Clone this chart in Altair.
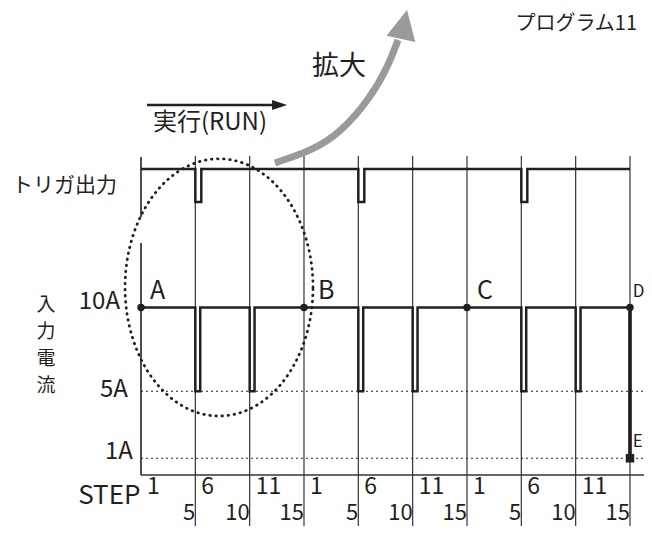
import altair as alt
import pandas as pd
import numpy as np

# ---------------- data ----------------
block_edges = [5, 10, 15, 20, 25, 30, 35, 40, 45]   # step boundaries 5|6, 10|11, 15|1
run_end = 45
level_high = 10        # A
level_low = 5          # A
level_final = 1        # A
current_dips = [5, 10, 20, 25, 35, 40]
dip_len = 0.45
trigger_pulses = [5, 20, 35]
pulse_len = 0.55
trig_hi, trig_lo = 18.27, 16.30          # trigger trace levels (upper band)
point_steps = [0, 15, 30, 45]
point_names = ["A", "B", "C", "D", "E"]
level_labels = ["10A", "5A", "1A"]
step_row1 = ["1", "6", "11"]
step_row2 = ["5", "10", "15"]
cycle_len = 15
n_cycles = 3

# ---------------- scales ----------------
W, H = 636, 518
XMIN, XMAX = -12.239, 46.289
YMIN, YMAX = -3.044, 27.881
xs = alt.Scale(domain=[XMIN, XMAX], nice=False, zero=False)
ys = alt.Scale(domain=[YMIN, YMAX], nice=False, zero=False)
INK = "#231f20"
FONT = "Noto Sans CJK JP"


def X(f="t"):
    return alt.X(f"{f}:Q", scale=xs, axis=None)


def Y(f="a"):
    return alt.Y(f"{f}:Q", scale=ys, axis=None)


# ---------------- paths ----------------
cur = [(0, level_high)]
for d in current_dips:
    cur += [(d, level_high), (d, level_low), (d + dip_len, level_low), (d + dip_len, level_high)]
cur += [(run_end, level_high), (run_end, level_final)]
cur_df = pd.DataFrame(cur, columns=["t", "a"]).reset_index().rename(columns={"index": "i"})

trg = [(0, trig_hi)]
for p in trigger_pulses:
    trg += [(p, trig_hi), (p, trig_lo), (p + pulse_len, trig_lo), (p + pulse_len, trig_hi)]
trg += [(run_end, trig_hi)]
trg_df = pd.DataFrame(trg, columns=["t", "a"]).reset_index().rename(columns={"index": "i"})

# grid verticals
grid = alt.Chart(pd.DataFrame({"t": block_edges, "a": 19.04, "a2": YMIN})).mark_rule(
    color="#333333", strokeWidth=1.2).encode(x=X(), y=Y(), y2="a2")

left = alt.Chart(pd.DataFrame({"t": [0, 0], "a": [18.99, 13.85], "a2": [15.40, 0]})).mark_rule(
    color="#3a3a3a", strokeWidth=1.8).encode(x=X(), y=Y(), y2="a2")

axis_line = alt.Chart(pd.DataFrame({"t": [0], "t2": [XMAX], "a": [0]})).mark_rule(
    color="#333333", strokeWidth=1.5).encode(x=X(), x2="t2", y=Y())

dotted = alt.Chart(pd.DataFrame({"t": [0, 0], "t2": [XMAX, XMAX], "a": [level_low, level_final]})).mark_rule(
    color=INK, strokeWidth=1.2, strokeDash=[2, 3]).encode(x=X(), x2="t2", y=Y())

trig_line = alt.Chart(trg_df).mark_line(color=INK, strokeWidth=2.5).encode(
    x=X(), y=Y(), order="i:Q")
cur_line = alt.Chart(cur_df).mark_line(color=INK, strokeWidth=2.5).encode(
    x=X(), y=Y(), order="i:Q")

drop = alt.Chart(pd.DataFrame({"t": [run_end], "a": [level_high], "a2": [level_final]})).mark_rule(
    color=INK, strokeWidth=3.6).encode(x=X(), y=Y(), y2="a2")

pts = alt.Chart(pd.DataFrame({"t": point_steps, "a": level_high})).mark_point(
    shape="circle", filled=True, size=55, color=INK, opacity=1).encode(x=X(), y=Y())
sq = alt.Chart(pd.DataFrame({"t": [run_end], "a": [level_final]})).mark_point(
    shape="square", filled=True, size=72, color=INK, opacity=1).encode(x=X(), y=Y())

# dotted ellipse around the magnified region
ecx, ecy, erx, ery = 7.18, 11.20, 8.65, 7.68
th = np.linspace(0, 2 * np.pi, 241)
ell_df = pd.DataFrame({"i": np.arange(len(th)), "t": ecx + erx * np.cos(th), "a": ecy + ery * np.sin(th)})
ellipse = alt.Chart(ell_df).mark_line(color=INK, strokeWidth=2.8, strokeDash=[0.5, 5.6],
                                      strokeCap="round").encode(x=X(), y=Y(), order="i:Q")

# black RUN arrow
run_arrow = alt.Chart(pd.DataFrame({"t": [0.55], "t2": [12.75], "a": [22.09]})).mark_rule(
    color=INK, strokeWidth=2.5).encode(x=X(), x2="t2", y=Y())
run_head = alt.Chart(pd.DataFrame({"t": [12.75], "a": [22.09]})).mark_point(
    shape="M1,0L-1,-0.67L-1,0.67Z", size=225, filled=True, color=INK, opacity=1).encode(x=X(), y=Y())

# gray zoom arrow
g_df = pd.DataFrame({"i": range(6),
                     "t": [12.33, 15.83, 18.31, 20.98, 22.73, 23.65],
                     "a": [18.63, 19.40, 20.42, 22.39, 24.36, 25.97]})
g_line = alt.Chart(g_df).mark_line(color="#9a9a9a", strokeWidth=7, interpolate="basis",
                                   strokeCap="butt").encode(x=X(), y=Y(), order="i:Q")
g_head = alt.Chart(pd.DataFrame({"t": [24.20], "a": [26.90]})).mark_point(
    shape="M0,-1L-1,1L1,1Z", size=870, angle=12, filled=True, color="#9a9a9a", opacity=1).encode(x=X(), y=Y())


# ---------------- texts ----------------
def texts(df, align, dx=0):
    return alt.Chart(df).mark_text(font=FONT, color=INK, align=align, baseline="middle",
                                   dx=dx).encode(
        x=X(), y=Y(), text="label:N", size=alt.Size("fs:Q", scale=None, legend=None))


left_txt = pd.DataFrame([
    ("トリガ出力", -11.87, 17.25, 21),
    ("実行(RUN)", 1.10, 21.00, 24),
    ("拡大", 15.74, 24.36, 27),
], columns=["label", "t", "a", "fs"])

right_top = pd.DataFrame([("プログラム11", 45.65, 26.90, 20)], columns=["label", "t", "a", "fs"])

letters = pd.DataFrame({"label": point_names,
                        "t": [0.83, 16.29, 30.92, 45.25, 45.25],
                        "a": [11.0, 11.0, 11.0, 10.95, 1.95],
                        "fs": [25, 25, 25, 17, 17]})

right_txt = pd.DataFrame({"label": level_labels + ["STEP"],
                          "t": [-1.93, -1.20, -0.74, -0.05],
                          "a": [10.33, 5.07, 1.37, -1.25], "fs": [24, 24, 24, 26]})

r1 = [(lab, c * cycle_len + off, -0.72, 23) for c in range(n_cycles)
      for lab, off in zip(step_row1, [0, 5, 10])]
r2 = [(lab, c * cycle_len + off, -2.25, 22) for c in range(n_cycles)
      for lab, off in zip(step_row2, [5, 10, 15])]
row1 = pd.DataFrame(r1, columns=["label", "t", "a", "fs"])
row2 = pd.DataFrame(r2, columns=["label", "t", "a", "fs"])

# vertical axis title, one character per row
vchars = list("入力電流")
vert_df = pd.DataFrame({"label": vchars, "t": -8.74,
                        "a": [10.15 - 1.62 * k for k in range(len(vchars))], "fs": 19})

chart = alt.layer(
    grid, left, axis_line, dotted, trig_line, cur_line, drop, pts, sq, ellipse,
    run_arrow, run_head, g_line, g_head,
    texts(left_txt, "left"), texts(right_top, "right"), texts(letters, "left"),
    texts(right_txt, "right"), texts(row1, "left", dx=6), texts(row2, "right", dx=0),
    texts(vert_df, "center"),
).properties(width=W, height=H, padding=0, autosize="none").configure_view(stroke=None)

chart.save("out.html", embed_options={"renderer": "svg", "actions": False})
